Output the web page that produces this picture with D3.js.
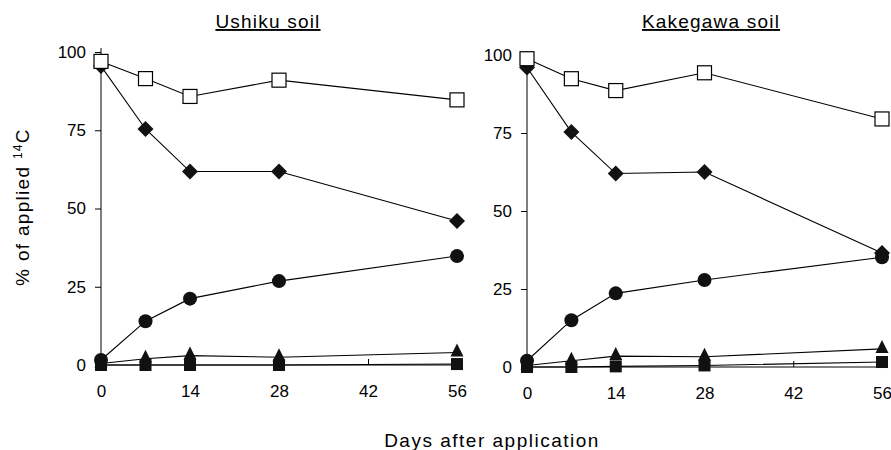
<!DOCTYPE html>
<html>
<head>
<meta charset="utf-8">
<script src="https://cdn.jsdelivr.net/npm/d3@7"></script>
<style>
  body { margin: 0; background: #fff; }
  text { font-family: "Liberation Sans", Arial, sans-serif; fill: #000; }
</style>
</head>
<body>
<svg id="paper"></svg>
<script>
// data
let days = [0, 7, 14, 28, 56];
let xTicks = [0, 14, 28, 42, 56];
let yTicks = [0, 25, 50, 75, 100];
let panels = ["Ushiku soil", "Kakegawa soil"];

let ushikuOpenSq = [97, 91.5, 85.8, 91, 84.7];
let ushikuDiamond = [95.5, 75.4, 61.8, 61.8, 46];
let ushikuCircle = [1.6, 14, 21.2, 26.8, 34.8];
let ushikuTriangle = [0.5, 2, 3, 2.5, 4];
let ushikuFilledSq = [0, 0, 0, 0, 0.3];

let kakeOpenSq = [98.8, 92.4, 88.6, 94.3, 79.5];
let kakeDiamond = [96, 75.3, 62, 62.5, 36.5];
let kakeCircle = [2, 15, 23.6, 27.9, 35.2];
let kakeTriangle = [0.5, 2, 3.5, 3.3, 5.8];
let kakeFilledSq = [0, 0, 0.2, 0.5, 1.6];

let width = 891, height = 450;

let svg = d3.select("#paper")
    .attr("width", width)
    .attr("height", height);

// one entry per panel: x-range, y-range, series
let layout = [
    {title: panels[0], x0: 101, x1: 457, y0: 365, y1: 52, tx: 268,
     series: [ushikuTriangle, ushikuFilledSq, ushikuCircle, ushikuDiamond, ushikuOpenSq]},
    {title: panels[1], x0: 527, x1: 882, y0: 367, y1: 55, tx: 711,
     series: [kakeTriangle, kakeFilledSq, kakeCircle, kakeDiamond, kakeOpenSq]}
];
let shapes = ["triangle", "filledSq", "circle", "diamond", "openSq"];

function drawMarker(g, shape, cx, cy) {
    if (shape === "openSq") {
        g.append("rect").attr("x", cx - 7).attr("y", cy - 7)
            .attr("width", 14).attr("height", 14)
            .attr("fill", "#fff").attr("stroke", "#000").attr("stroke-width", 1.2);
    } else if (shape === "filledSq") {
        g.append("rect").attr("x", cx - 6).attr("y", cy - 6)
            .attr("width", 12).attr("height", 12).attr("fill", "#111");
    } else if (shape === "circle") {
        g.append("circle").attr("cx", cx).attr("cy", cy).attr("r", 7).attr("fill", "#111");
    } else if (shape === "diamond") {
        g.append("path")
            .attr("d", `M${cx},${cy - 8}L${cx + 8},${cy}L${cx},${cy + 8}L${cx - 8},${cy}Z`)
            .attr("fill", "#111");
    } else if (shape === "triangle") {
        g.append("path")
            .attr("d", `M${cx},${cy - 9}L${cx + 6.5},${cy + 4}L${cx - 6.5},${cy + 4}Z`)
            .attr("fill", "#111");
    }
}

layout.forEach(function (p) {
    let x = d3.scaleLinear().domain([0, 56]).range([p.x0, p.x1]);
    let y = d3.scaleLinear().domain([0, 100]).range([p.y0, p.y1]);
    let g = svg.append("g");

    // y axis, ticks pointing out
    let yAxis = g.append("g")
        .attr("transform", "translate(" + p.x0 + ",0)")
        .call(d3.axisLeft(y).tickValues(yTicks).tickSize(6).tickPadding(9));
    yAxis.select(".domain").attr("d", `M0,${p.y0}V${p.y1 - 4}`);

    // x axis, ticks pointing in
    let xAxis = g.append("g")
        .attr("transform", "translate(0," + p.y0 + ")")
        .call(d3.axisBottom(x).tickValues(xTicks).tickSize(-6).tickPadding(20));
    xAxis.select(".domain").attr("d", `M${p.x0},0H${p.x1}`);

    g.selectAll(".tick text").style("font-size", "17px").style("font-family", "Liberation Sans");
    g.selectAll(".domain, .tick line").attr("stroke", "#000");

    // lines then markers
    p.series.forEach(function (vals) {
        let pts = days.map((d, i) => [x(d), y(vals[i])]);
        g.append("path")
            .attr("d", d3.line()(pts))
            .attr("fill", "none").attr("stroke", "#000").attr("stroke-width", 1.1);
    });
    p.series.forEach(function (vals, si) {
        days.forEach(function (d, i) {
            drawMarker(g, shapes[si], x(d), y(vals[i]));
        });
    });

    // underlined title
    g.append("text")
        .attr("x", p.tx).attr("y", 28)
        .attr("text-anchor", "middle")
        .style("font-size", "19px")
        .style("letter-spacing", "1.2px")
        .style("text-decoration", "underline")
        .text(p.title);
});

// y label with superscript
svg.append("text")
    .attr("transform", "translate(29,207) rotate(-90)")
    .attr("text-anchor", "middle")
    .style("font-size", "19px")
    .style("letter-spacing", "1.3px")
    .call(function (t) {
        t.append("tspan").text("% of applied ");
        t.append("tspan").attr("dy", -7).style("font-size", "12px").text("14");
        t.append("tspan").attr("dy", 7).text("C");
    });

svg.append("text")
    .attr("x", 492).attr("y", 447)
    .attr("text-anchor", "middle")
    .style("font-size", "19px")
    .style("letter-spacing", "1.5px")
    .text("Days after application");
</script>
</body>
</html>
